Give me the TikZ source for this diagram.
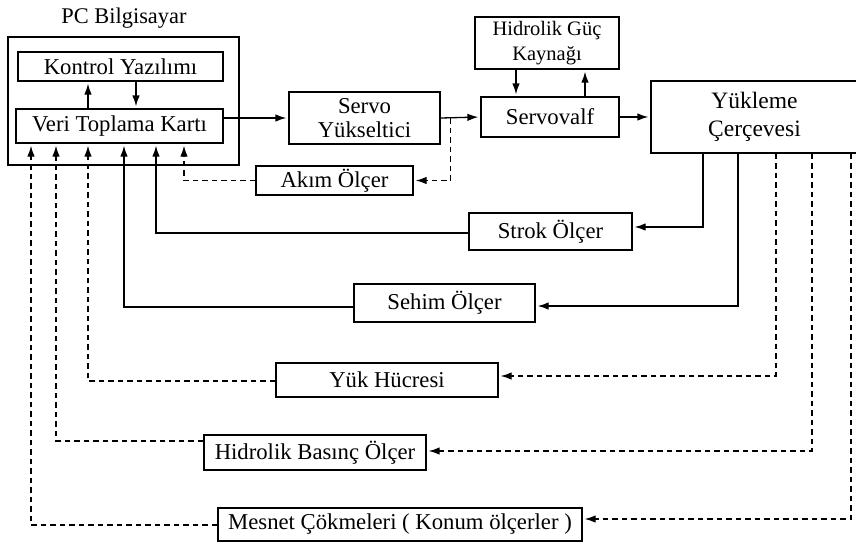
\documentclass[tikz,border=0pt]{standalone}
\usepackage{fontspec}
\setmainfont{Liberation Serif}
\usetikzlibrary{positioning,arrows.meta}

\begin{document}
\begin{tikzpicture}[x=1pt,y=-1pt,
  blok/.style={draw,line width=1.3pt,inner sep=0pt,align=center,font=\fontsize{22.7}{24.5}\selectfont},
  sig/.style={line width=1.3pt,-{Latex[length=11pt,width=7.5pt]},shorten >=2pt},
  olc/.style={sig,dash pattern=on 5.5pt off 4pt}]
  \useasboundingbox (0,0) rectangle (856,542);
  % bilgisayar tarafi
  \node[font=\fontsize{22.4}{25}\selectfont] (baslik) at (124,18) {PC Bilgisayar};
  \node[blok,minimum width=231pt,minimum height=128pt] (pc) at (123.5,101) {};
  \node[blok,minimum width=205pt,minimum height=29pt] (kontrol) at (120.5,66.5) {Kontrol Yazılımı};
  \node[blok,minimum width=207pt,minimum height=34pt] (veri) at (119.5,126) {Veri Toplama Kartı};
  % hidrolik zincir
  \node[blok,minimum width=151pt,minimum height=52pt] (servo) at (364.5,118) {Servo\\Yükseltici};
  \node[blok,minimum width=138pt,minimum height=40pt] (valf) at (550,117) {Servovalf};
  \node[blok,minimum width=144pt,minimum height=52pt,font=\fontsize{20.5}{25}\selectfont] (guc) at (547,43) {Hidrolik Güç\\Kaynağı};
  \node[blok,minimum width=207pt,minimum height=72pt,font=\fontsize{23.5}{28}\selectfont] (cerceve) at (754.5,117) {Yükleme\\Çerçevesi};
  % olcum elemanlari
  \node[blok,minimum width=157pt,minimum height=29pt] (akim) at (334.5,180.5) {Akım Ölçer};
  \node[blok,minimum width=163pt,minimum height=37pt] (strok) at (550.5,231.5) {Strok Ölçer};
  \node[blok,minimum width=181pt,minimum height=38pt] (sehim) at (444.5,303) {Sehim Ölçer};
  \node[blok,minimum width=222pt,minimum height=34pt] (yuk) at (387,380) {Yük Hücresi};
  \node[blok,minimum width=222pt,minimum height=35pt] (basinc) at (315,452.5) {Hidrolik Basınç Ölçer};
  \node[blok,minimum width=364pt,minimum height=33pt] (mesnet) at (400,524.5) {Mesnet Çökmeleri ( Konum ölçerler )};

  \draw[sig] ([xshift=-31.5pt]veri.north) -- ([xshift=-31.5pt]veri.north |- kontrol.south);
  \draw[sig] ([xshift=15.5pt]kontrol.south) -- ([xshift=15.5pt]kontrol.south |- veri.north);
  \draw[sig] (veri.east |- servo.west) -- (servo.west);
  \draw[sig] (servo.east) -- (valf.west);
  \draw[sig] ([xshift=-31pt]guc.south) -- ([xshift=-31pt]guc.south |- valf.north);
  \draw[sig] ([xshift=35pt]valf.north) -- ([xshift=35pt]valf.north |- guc.south);
  \draw[sig] (valf.east) -- (cerceve.west);

  % geri beslemeler
  \draw[olc] ([xshift=10pt]servo.east) |- (akim.east);
  \draw[olc] (akim.west) -| ([xshift=64.5pt]veri.south);
  \draw[sig] ([xshift=-51.5pt]cerceve.south) |- ([yshift=4.5pt]strok.east);
  \draw[sig] ([yshift=-1.5pt]strok.west) -| ([xshift=36.5pt]veri.south);
  \draw[sig] ([xshift=-16.5pt]cerceve.south) |- ([yshift=-3pt]sehim.east);
  \draw[sig] ([yshift=-4pt]sehim.west) -| ([xshift=4.5pt]veri.south);
  \draw[olc] ([xshift=21.5pt]cerceve.south) |- ([yshift=4pt]yuk.east);
  \draw[olc] ([yshift=-1pt]yuk.west) -| ([xshift=-31.5pt]veri.south);
  \draw[olc] ([xshift=57.5pt]cerceve.south) |- ([yshift=1.5pt]basinc.east);
  \draw[olc] ([yshift=11.5pt]basinc.west) -| ([xshift=-63.5pt]veri.south);
  \draw[olc] ([xshift=96.5pt]cerceve.south) |- ([yshift=5.5pt]mesnet.east);
  \draw[olc] ([yshift=-0.5pt]mesnet.west) -| ([xshift=-88.5pt]veri.south);
\end{tikzpicture}
\end{document}
